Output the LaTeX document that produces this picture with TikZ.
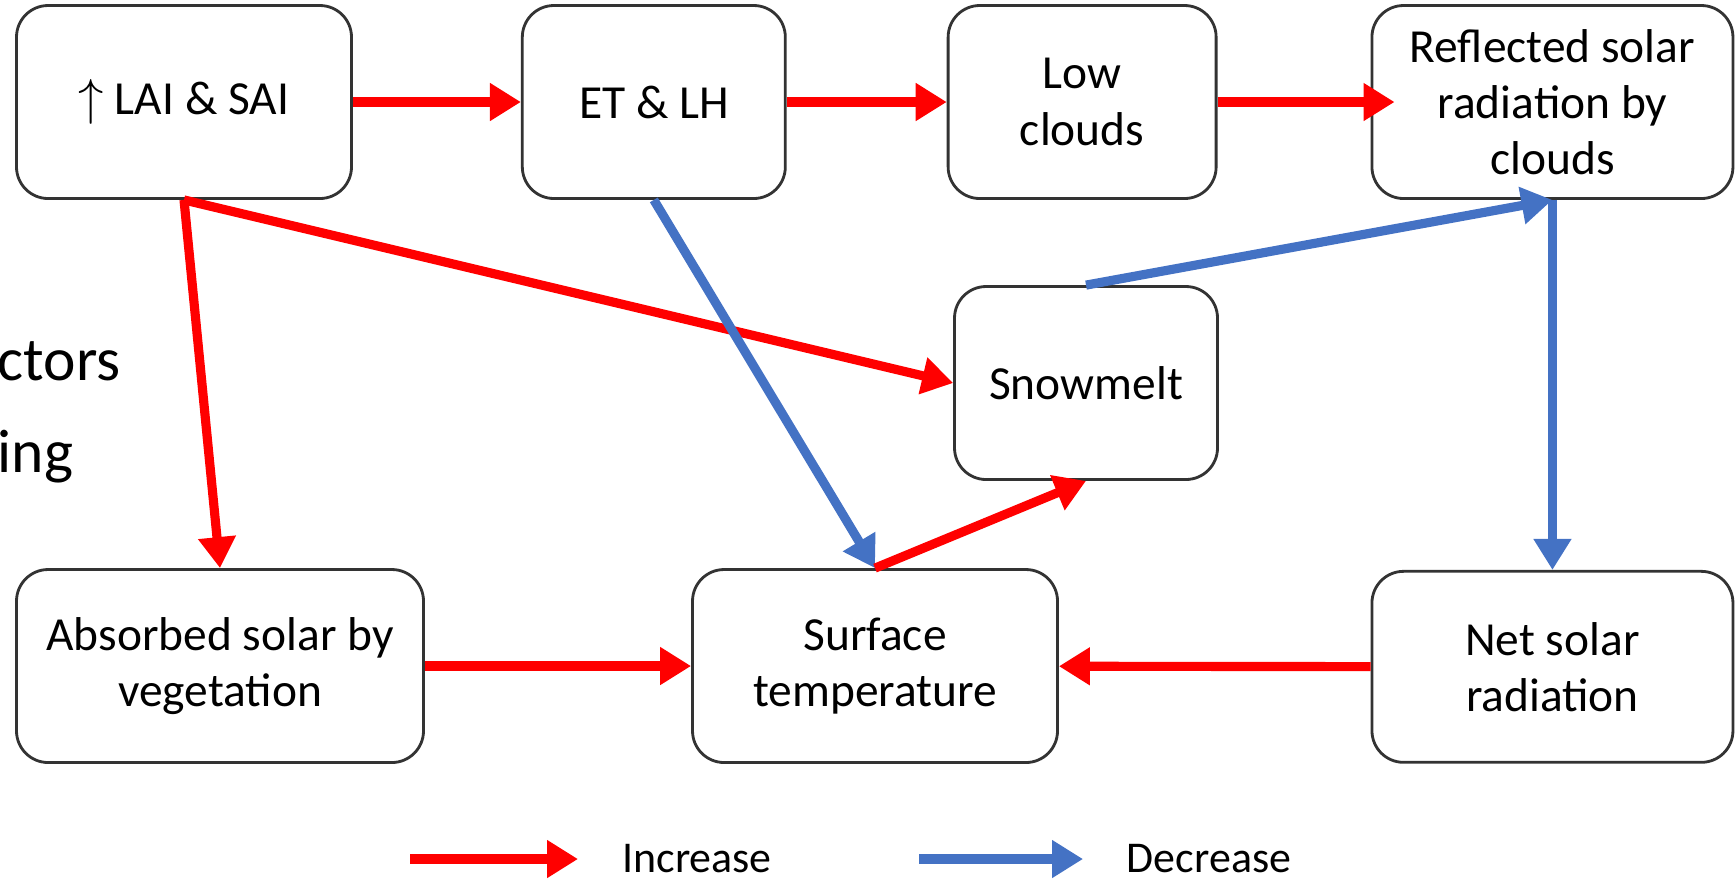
\documentclass[tikz,border=0pt]{standalone}
\usepackage{fontspec}
\setmainfont{Carlito}
\usetikzlibrary{arrows.meta,positioning}
\definecolor{IncRed}{RGB}{255,0,0}
\definecolor{DecBlue}{RGB}{68,114,196}
\tikzset{
  vbox/.style={draw=black!80,fill=white,rounded corners=9pt,line width=0.8pt,
               minimum height=1.93cm,align=center,
               font=\fontsize{13.5}{16}\selectfont},
  arrinc/.style={-{Triangle[length=0.31cm,width=0.36cm]},IncRed,line width=2.6pt},
  arrdec/.style={-{Triangle[length=0.31cm,width=0.36cm]},DecBlue,line width=2.6pt},
  cuttxt/.style={anchor=base west,inner sep=0pt,font=\fontsize{17.5}{20}\selectfont},
  legtxt/.style={font=\fontsize{12.5}{15}\selectfont},
}
\begin{document}
\begin{tikzpicture}
  \useasboundingbox (0,0) rectangle (17.36,-8.82);
  % top row
  \node[vbox,minimum width=3.35cm] (lai) at (1.84,-1.02) {$\uparrow$ LAI \& SAI};
  \node[vbox,minimum width=2.63cm,right=1.68cm of lai] (et) {ET \& LH};
  \node[vbox,minimum width=2.68cm,right=1.60cm of et] (low) {Low\\clouds};
  \node[vbox,minimum width=3.61cm,right=1.53cm of low] (refl) {Reflected solar\\radiation by\\clouds};
  % middle and bottom
  \node[vbox,minimum width=2.63cm] (snow) at (10.86,-3.83) {Snowmelt};
  \node[vbox,minimum width=4.07cm] (abs) at (2.20,-6.66) {Absorbed solar by\\vegetation};
  \node[vbox,minimum width=3.65cm] (surf) at (8.75,-6.66) {Surface\\temperature};
  \node[vbox,minimum width=3.61cm,minimum height=1.91cm,below=3.70cm of refl] (net) {Net solar\\radiation};
  % cut text at the left
  \node[cuttxt] (cut1) at (-0.03,-3.80) {ctors};
  \node[cuttxt] (cut2) at (-0.03,-4.72) {ing};
  % links
  \draw[arrinc] (lai)--(et);
  \draw[arrinc] (et)--(low);
  \draw[arrinc,shorten >=-0.24cm] (low)--(refl);
  \draw[arrinc] (lai.south)--(snow.west);
  \draw[arrinc] (lai.south)--(abs.north);
  \draw[arrdec] (et.south)--(surf.north);
  \draw[arrinc] (surf.north)--(snow.south);
  \draw[arrdec] (snow.north)--(refl.south);
  \draw[arrdec] (refl.south)--(net.north);
  \draw[arrinc] (abs)--(surf);
  \draw[arrinc] (net)--(surf);
  % legend
  \coordinate (incA) at (4.10,-8.59);
  \coordinate (incB) at (5.78,-8.59);
  \coordinate (decA) at (9.19,-8.59);
  \coordinate (decB) at (10.83,-8.59);
  \node[legtxt] (inc) at (6.97,-8.59) {Increase};
  \node[legtxt] (dec) at (12.09,-8.59) {Decrease};
  \draw[arrinc] (incA)--(incB);
  \draw[arrdec] (decA)--(decB);
\end{tikzpicture}
\end{document}
